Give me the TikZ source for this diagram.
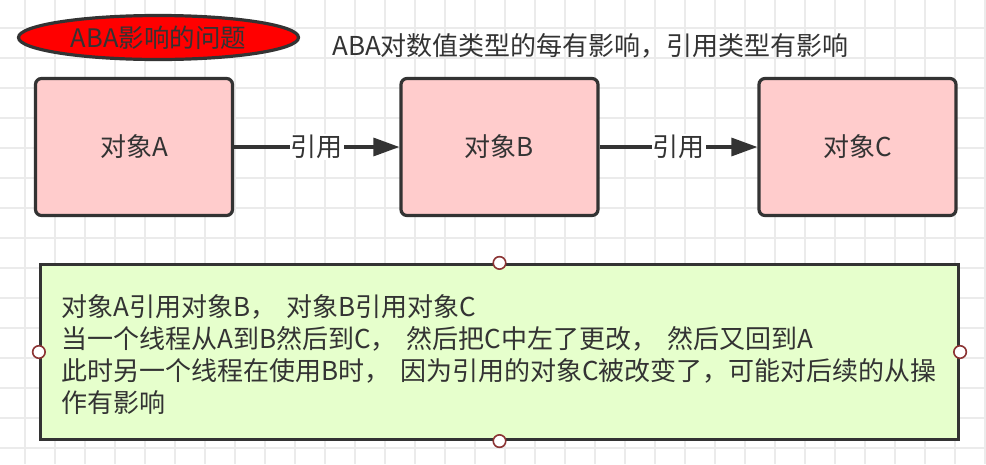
\documentclass[tikz,border=0pt]{standalone}
\usepackage{fontspec}
\newfontfamily\cjk{Noto Sans CJK SC}
\usetikzlibrary{arrows.meta,shapes.geometric}
\definecolor{ink}{HTML}{333333}
\definecolor{pinkfill}{HTML}{FFCCCC}
\definecolor{greenfill}{HTML}{E6FFCC}
\definecolor{gridc}{HTML}{EBEBEB}
\definecolor{handle}{HTML}{8B3333}
\begin{document}
\begin{tikzpicture}[x=1pt,y=-1pt,
  gridline/.style={draw=gridc, line width=1.3pt},
  txt/.style={font=\cjk\fontsize{26}{32}\selectfont, text=ink},
  objbox/.style={txt, draw=ink, line width=3.2pt, fill=pinkfill, rounded corners=6pt,
    minimum width=197pt, minimum height=137pt, inner sep=0pt},
  notebox/.style={draw=ink, line width=3.2pt, fill=greenfill,
    minimum width=918pt, minimum height=175pt, inner sep=0pt},
  handlept/.style={circle, draw=handle, line width=1.6pt, fill=white,
    minimum size=12.5pt, inner sep=0pt},
  conn/.style={draw=ink, line width=3.2pt, -{Triangle[length=26pt,width=18pt]}},
  lbl/.style={txt, fill=white, inner sep=1pt},
  titleell/.style={ellipse, draw=ink, line width=3.2pt, fill=red,
    minimum width=280pt, minimum height=44pt, inner sep=0pt,
    font=\cjk\fontsize{25.5}{30}\selectfont, text=ink}]
\useasboundingbox (0,0) rectangle (986,464);
\fill[white] (0,0) rectangle (986,464);
\foreach \x in {25,55,...,985} \draw[gridline] (\x,0) -- (\x,464);
\foreach \y in {-2,28,...,463} \draw[gridline] (0,\y) -- (986,\y);

\node[titleell] (title) at (158.5,37.5) {ABA影响的问题};
\node[txt, anchor=west, inner sep=0pt] (note) at (332,46) {ABA对数值类型的每有影响，引用类型有影响};

\node[objbox] (A) at (134,147) {对象A};
\node[objbox] (B) at (499.5,147) {对象B};
\node[objbox] (C) at (857.5,147) {对象C};

\draw[conn] (A) -- node[lbl] (l1) {引用} (B);
\draw[conn] (B) -- node[lbl] (l2) {引用} (C);

\node[notebox] (G) at (499.5,352) {};
\node[txt, align=left, anchor=west, inner sep=0pt] (body) at (61,355)
  {对象A引用对象B，\hspace{10pt}对象B引用对象C\\
   当一个线程从A到B然后到C，\hspace{10pt}然后把C中左了更改，\hspace{10pt}然后又回到A\\
   此时另一个线程在使用B时，\hspace{10pt}因为引用的对象C被改变了，可能对后续的从操\\
   作有影响};
\node[handlept] (hn) at (G.north) {};
\node[handlept] (hs) at (G.south) {};
\node[handlept] (hw) at (G.west) {};
\node[handlept] (he) at (G.east) {};
\end{tikzpicture}
\end{document}
